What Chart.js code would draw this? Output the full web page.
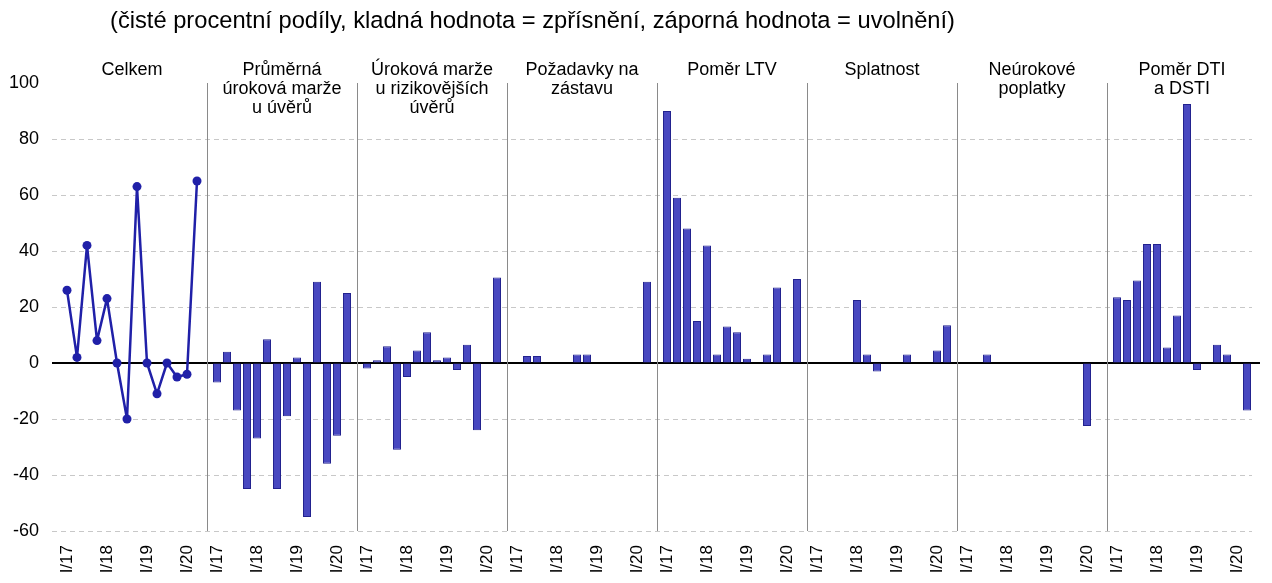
<!DOCTYPE html>
<html>
  <head>
    <title>Chart</title>
    <meta charset="UTF-8" />
    <script src="https://cdn.jsdelivr.net/npm/chart.js@4"></script>
    <style>
      body { margin: 0; background: #fff; }
      #wrap { position: relative; width: 1272px; height: 583px; }
      #note {
        position: absolute; left: 110px; top: 7px;
        font: 23.7px Arial, "Liberation Sans", sans-serif; color: #000;
        white-space: nowrap;
      }
    </style>
  </head>
  <body>
    <div id="wrap">
      <canvas id="myChart" width="1272" height="583"></canvas>
      <div id="note">(čisté procentní podíly, kladná hodnota = zpřísnění, záporná hodnota = uvolnění)</div>
    </div>
    <script>
      // quarters I/17 .. II/20
      var quarters = ["I/17", "II/17", "III/17", "IV/17", "I/18", "II/18", "III/18", "IV/18",
                      "I/19", "II/19", "III/19", "IV/19", "I/20", "II/20"];

      var panelTitles = [
        ["Celkem"],
        ["Průměrná", "úroková marže", "u úvěrů"],
        ["Úroková marže", "u rizikovějších", "úvěrů"],
        ["Požadavky na", "zástavu"],
        ["Poměr LTV"],
        ["Splatnost"],
        ["Neúrokové", "poplatky"],
        ["Poměr DTI", "a DSTI"]
      ];

      var celkem     = [26, 2, 42, 8, 23, 0, -20, 63, 0, -11, 0, -5, -4, 65];
      var marze      = [-7, 4, -17, -45, -27, 8.5, -45, -19, 2, -55, 29, -36, -26, 25];
      var marzeRiz   = [-2, 1, 6, -31, -5, 4.5, 11, 1, 2, -2.5, 6.5, -24, 0, 30.5];
      var zastava    = [0, 2.5, 2.5, 0, 0, 0, 3, 3, 0, 0, 0, 0, 0, 29];
      var ltv        = [90, 59, 48, 15, 42, 3, 13, 11, 1.5, 0, 3, 27, 0, 30];
      var splatnost  = [0, 0, 0, 0, 22.5, 3, -3, 0, 0, 3, 0, 0, 4.5, 13.5];
      var poplatky   = [0, 0, 3, 0, 0, 0, 0, 0, 0, 0, 0, 0, -22.5, 0];
      var dti        = [23.5, 22.5, 29.5, 42.5, 42.5, 5.5, 17, 92.5, -2.5, 0, 6.5, 3, 0, -17];

      var barPanels = [marze, marzeRiz, zastava, ltv, splatnost, poplatky, dti];

      // one empty slot before each panel, then 14 quarters
      var labels = [];
      var lineData = [];
      var barData = [];
      for (var p = 0; p < 8; p++) {
        labels.push("");
        lineData.push(null);
        barData.push(null);
        for (var q = 0; q < quarters.length; q++) {
          labels.push(quarters[q]);
          lineData.push(p == 0 ? celkem[q] : null);
          barData.push(p == 0 ? null : barPanels[p - 1][q]);
        }
      }

      var FONT = "Arial, 'Liberation Sans', sans-serif";

      var panelPlugin = {
        id: "panels",
        beforeDatasetsDraw: function(chart) {
          var ctx = chart.ctx, x = chart.scales.x, a = chart.chartArea;
          var y = chart.scales.y;
          ctx.save();
          // zero line
          ctx.strokeStyle = "#000";
          ctx.lineWidth = 2;
          ctx.beginPath();
          ctx.moveTo(a.left, y.getPixelForValue(0));
          ctx.lineTo(a.right + 8, y.getPixelForValue(0));
          ctx.stroke();
          // panel dividers
          ctx.strokeStyle = "#8a8a8a";
          ctx.lineWidth = 1;
          for (var k = 1; k < 8; k++) {
            var px = Math.round(x.getPixelForValue(k * 15)) + 0.5;
            ctx.beginPath();
            ctx.moveTo(px, a.top);
            ctx.lineTo(px, a.bottom);
            ctx.stroke();
          }
          ctx.restore();
        },
        afterDraw: function(chart) {
          var ctx = chart.ctx, x = chart.scales.x;
          ctx.save();
          ctx.fillStyle = "#000";
          ctx.font = "18px " + FONT;
          ctx.textAlign = "center";
          ctx.textBaseline = "middle";
          for (var k = 0; k < 8; k++) {
            var cx = (x.getPixelForValue(k * 15 + 1) + x.getPixelForValue(k * 15 + 14)) / 2;
            for (var i = 0; i < panelTitles[k].length; i++) {
              ctx.fillText(panelTitles[k][i], cx, 70 + i * 19);
            }
          }
          ctx.restore();
        }
      };

      var ctx = document.getElementById("myChart").getContext("2d");
      var chart = new Chart(ctx, {
        type: "bar",
        data: {
          labels: labels,
          datasets: [
            {
              type: "line",
              data: lineData,
              borderColor: "#2020a8",
              backgroundColor: "#2020a8",
              borderWidth: 2.5,
              borderJoinStyle: "round",
              pointRadius: 4.5,
              pointBackgroundColor: "#2020a8",
              pointBorderWidth: 0,
              spanGaps: false,
              tension: 0,
              order: 0
            },
            {
              data: barData,
              backgroundColor: "#4848c0",
              borderColor: "#22228f",
              borderWidth: 1,
              barPercentage: 0.8,
              categoryPercentage: 1,
              order: 1
            }
          ]
        },
        options: {
          responsive: false,
          animation: false,
          layout: { padding: { top: 83, right: 20, left: 0, bottom: 0 } },
          plugins: {
            legend: { display: false },
            tooltip: { enabled: false }
          },
          scales: {
            x: {
              grid: { display: false, drawTicks: false },
              border: { display: false },
              afterFit: function(s) {
                s.height = 52;
                s.paddingLeft = 0;
                s.paddingRight = 0;
              },
              ticks: {
                autoSkip: false,
                minRotation: 90,
                maxRotation: 90,
                padding: 14,
                color: "#000",
                font: { family: FONT, size: 17 },
                callback: function(v) {
                  var l = this.getLabelForValue(v);
                  return l.indexOf("I/") == 0 ? l : "";
                }
              }
            },
            y: {
              min: -60,
              max: 100,
              afterFit: function(s) { s.width = 52; },
              border: { display: false, dash: [5, 4] },
              grid: {
                drawTicks: false,
                lineWidth: 1,
                color: function(c) {
                  if (!c.tick || c.tick.value == 0 || c.tick.value == 100) return "rgba(0,0,0,0)";
                  return "#c8c8c8";
                }
              },
              ticks: {
                stepSize: 20,
                padding: 13,
                color: "#000",
                font: { family: FONT, size: 18 }
              }
            }
          }
        },
        plugins: [panelPlugin]
      });
    </script>
  </body>
</html>
